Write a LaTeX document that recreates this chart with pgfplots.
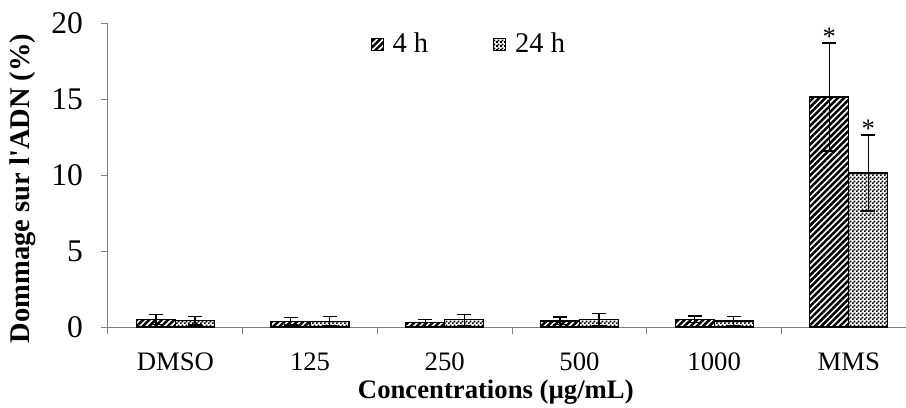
\documentclass[border=0pt]{standalone}
\usepackage{fontspec}
\setmainfont{Liberation Serif}
\usepackage{pgfplots}
\pgfplotsset{compat=1.18}
\usetikzlibrary{patterns,patterns.meta,calc}

% dotted lattice used for the 24 h bars
\pgfdeclarepatternformonly{latticedots}{\pgfpointorigin}{\pgfpoint{4pt}{4pt}}{\pgfpoint{4pt}{4pt}}{%
	\pgfpathrectangle{\pgfpoint{0pt}{0pt}}{\pgfpoint{2.1pt}{2.1pt}}%
	\pgfpathrectangle{\pgfpoint{2pt}{2pt}}{\pgfpoint{2.1pt}{2.1pt}}%
	\pgfusepath{fill}%
}

\begin{document}
\fontsize{26.7}{32}\selectfont
\begin{tikzpicture}
\begin{axis}[
	scale only axis,
	width=798pt, height=304pt,
	ybar=0pt, bar width=39pt,
	xmin=-0.5, xmax=5.424,
	ymin=0, ymax=20,
	ytick={0,5,...,20},
	xtick={0,...,5},
	xticklabels={DMSO,125,250,500,1000,MMS},
	minor xtick={-0.5,0.5,...,5.5},
	major x tick style={draw=none},
	tick align=outside,
	major tick length=7pt, minor tick length=7pt,
	axis x line*=bottom, axis y line*=left,
	axis line style={black!50, line width=1pt},
	tick style={black!50, line width=1pt},
	/pgf/number format/assume math mode=true,
	xticklabel style={anchor=base, yshift=-36pt, font=\fontsize{26.7}{32}\selectfont},
	yticklabel style={anchor=east, inner xsep=18pt, font=\fontsize{31.5}{36}\selectfont},
	xlabel={Concentrations (µg/mL)},
	ylabel={Dommage sur l\textquotesingle ADN (\%)},
	xlabel style={at={(axis description cs:0.486,-0.2336)}, anchor=base, font=\bfseries\fontsize{26.7}{32}\selectfont},
	ylabel style={at={(axis description cs:-0.0902,0.456)}, anchor=south, inner sep=0pt, font=\bfseries\fontsize{28.5}{34}\selectfont},
	legend style={at={(axis description cs:0.325,0.93)}, anchor=west, draw=none, fill=none,
		font=\fontsize{28.5}{34}\selectfont, legend columns=2,
		/tikz/every even column/.append style={column sep=56pt},
		nodes={inner xsep=9pt}},
	legend image code/.code={\draw[#1, line width=1pt] (0pt,-6pt) rectangle (12pt,6pt);},
	error bars/y dir=both, error bars/y explicit,
	error bars/error bar style={black, line width=1.3pt},
	error bars/error mark options={rotate=90, mark size=7pt, line width=1.3pt, black},
]
\addplot[draw=black, line width=1.2pt, pattern={Lines[angle=45,distance=4.4pt,line width=2.5pt]}, pattern color=black]
coordinates {
	(0,0.50) +- (0,0.33)
	(1,0.38) +- (0,0.25)
	(2,0.27) +- (0,0.22)
	(3,0.40) +- (0,0.25)
	(4,0.50) +- (0,0.22)
	(5,15.13) +- (0,3.55)
};
\addlegendentry{4 h}
\addplot[draw=black, line width=1.2pt, pattern=latticedots, pattern color=black]
coordinates {
	(0,0.42) +- (0,0.28)
	(1,0.38) +- (0,0.32)
	(2,0.47) +- (0,0.37)
	(3,0.48) +- (0,0.40)
	(4,0.40) +- (0,0.28)
	(5,10.13) +- (0,2.50)
};
\addlegendentry{24 h}
\node[anchor=base, xshift=-19.5pt, yshift=-2pt] at (axis cs:5,18.68) {*};
\node[anchor=base, xshift=19.5pt, yshift=-2pt] at (axis cs:5,12.63) {*};
\coordinate (bl) at (rel axis cs:0,0);
\coordinate (tr) at (rel axis cs:1,1);
\end{axis}
\pgfresetboundingbox
\path[use as bounding box] ($(bl)+(-108pt,-80pt)$) rectangle ($(tr)+(0pt,23pt)$);
\end{tikzpicture}
\end{document}
